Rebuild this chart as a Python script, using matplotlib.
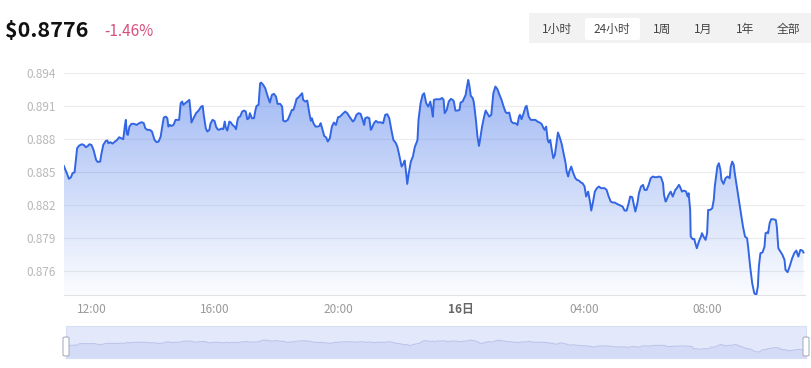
import numpy as np
import matplotlib
matplotlib.use("Agg")
import matplotlib.pyplot as plt
from matplotlib.patches import FancyBboxPatch, Rectangle

plt.rcParams['font.family'] = ['Noto Sans CJK SC', 'DejaVu Sans']

# minutes after 12:00 on the 15th, and price in USD
minutes = [
    -55, -49, -45, -41, -38, -34, -31, -29, -25, -20,
    -16, -12, -8, -5, -1, 3, 8, 11, 16, 18,
    22, 27, 30, 32, 36, 40, 45, 49, 53, 57,
    61, 64, 66, 68, 70, 73, 77, 82, 87, 92,
    97, 101, 104, 108, 113, 117, 122, 126, 130, 134,
    137, 140, 144, 147, 149, 152, 155, 159, 163, 166,
    170, 173, 176, 178, 182, 186, 190, 192, 194, 198,
    203, 208, 213, 216, 218, 222, 225, 229, 231, 235,
    239, 242, 245, 248, 252, 256, 259, 261, 264, 268,
    271, 274, 278, 281, 284, 286, 289, 293, 297, 300,
    303, 306, 308, 312, 316, 319, 321, 325, 328, 330,
    334, 338, 343, 347, 351, 355, 359, 362, 367, 371,
    373, 377, 382, 386, 390, 393, 397, 399, 403, 407,
    410, 412, 416, 420, 424, 427, 429, 432, 436, 440,
    444, 446, 449, 453, 457, 460, 464, 468, 472, 476,
    480, 484, 489, 494, 498, 503, 509, 512, 516, 520,
    524, 528, 531, 533, 537, 541, 544, 546, 550, 554,
    558, 562, 568, 572, 576, 580, 584, 588, 593, 596,
    600, 604, 608, 610, 613, 615, 618, 622, 626, 630,
    634, 635,
    637, 641, 645, 648, 652, 656, 660, 663, 665, 667,
    671, 675, 679, 683, 686, 688, 692, 696, 700, 704,
    706, 709, 713, 717, 719, 723, 729, 731, 734, 736,
    739, 743, 745, 749, 752, 755, 757, 761, 765, 768,
    771, 775, 779, 783, 787, 791, 795, 799, 803, 807,
    810, 814, 818, 822, 826, 830, 833, 835, 838, 842,
    846, 848, 852, 856, 860, 865, 869, 873, 877, 881,
    883, 886, 889, 891, 894, 897, 900, 903, 907, 909,
    912, 916, 920, 924, 926, 929, 931, 935, 939, 943,
    946, 950, 954, 957, 961, 964, 968, 972, 974, 977,
    981, 985, 989, 993, 996, 1000, 1004, 1008, 1012, 1016,
    1020, 1024, 1028, 1032, 1035, 1039, 1043, 1047, 1050, 1054,
    1058, 1060, 1064, 1067, 1071, 1075, 1078, 1082, 1086, 1090,
    1094, 1098, 1102, 1106, 1110, 1114, 1116, 1119, 1121, 1125,
    1129, 1133, 1136, 1138, 1141, 1145, 1147, 1151, 1155, 1159,
    1162, 1164, 1167, 1168, 1172, 1175, 1177, 1180, 1184, 1188,
    1190, 1193, 1197, 1200, 1202, 1206, 1210, 1213, 1215, 1218,
    1220, 1223, 1226, 1228, 1232, 1236, 1240, 1244, 1246, 1249,
    1252, 1254, 1258, 1262, 1266, 1270, 1274, 1278, 1280, 1284,
    1288, 1292, 1296, 1299, 1301, 1304, 1308, 1312, 1314, 1317,
    1319, 1322, 1325, 1329, 1334, 1336, 1339, 1343, 1347, 1351,
    1353, 1357, 1361, 1366, 1370, 1374, 1378, 1382, 1386, 1388,
]
prices = [
    0.88556, 0.88489, 0.88438, 0.88453, 0.88489, 0.88498, 0.88626, 0.88717, 0.88741, 0.88753,
    0.88747, 0.88726, 0.88738, 0.88753, 0.88747, 0.88702, 0.88611, 0.88592, 0.88595, 0.88656,
    0.88747, 0.88784, 0.88787, 0.88762, 0.88772, 0.88759, 0.88778, 0.88793, 0.88817, 0.88808,
    0.88799, 0.88914, 0.88975, 0.88847, 0.88838, 0.88914, 0.88939, 0.88939, 0.88929, 0.88945,
    0.88954, 0.88945, 0.88899, 0.88884, 0.88884, 0.88869, 0.88793, 0.88772, 0.88778, 0.88823,
    0.88914, 0.88996, 0.89005, 0.88990, 0.88914, 0.88929, 0.88920, 0.88929, 0.88975, 0.88975,
    0.88975, 0.89127, 0.89142, 0.89112, 0.89127, 0.89142, 0.89157, 0.89066, 0.88951, 0.88990,
    0.89036, 0.89060, 0.89096, 0.89102, 0.89021, 0.88899, 0.88869, 0.88884, 0.88939, 0.88975,
    0.88966, 0.88914, 0.88890, 0.88884, 0.88896, 0.88890, 0.88960, 0.88905, 0.88878, 0.88960,
    0.88951, 0.88929, 0.88914, 0.88890, 0.88975, 0.88999, 0.89005, 0.89051, 0.89060, 0.89051,
    0.88981, 0.88990, 0.89036, 0.88990, 0.88990, 0.89066, 0.89102, 0.89112, 0.89309, 0.89315,
    0.89294, 0.89263, 0.89187, 0.89133, 0.89203, 0.89212, 0.89187, 0.89121, 0.89121, 0.89096,
    0.88969, 0.88960, 0.88975, 0.89021, 0.89066, 0.89066, 0.89127, 0.89166, 0.89181, 0.89203,
    0.89218, 0.89157, 0.89142, 0.89151, 0.89036, 0.88966, 0.88990, 0.88945, 0.88914, 0.88914,
    0.88920, 0.88945, 0.88899, 0.88829, 0.88814, 0.88778, 0.88808, 0.88914, 0.88951, 0.88929,
    0.88999, 0.89005, 0.89030, 0.89051, 0.89036, 0.88999, 0.88960, 0.88975, 0.89021, 0.89036,
    0.89030, 0.88975, 0.88929, 0.88990, 0.88999, 0.88990, 0.88884, 0.88899, 0.88945, 0.88966,
    0.88951, 0.88954, 0.88945, 0.89021, 0.89027, 0.88990, 0.88884, 0.88793, 0.88762, 0.88726,
    0.88641, 0.88550, 0.88580, 0.88605, 0.88489, 0.88392, 0.88489, 0.88595, 0.88641, 0.88732,
    0.88778, 0.88793,
    0.88975, 0.89127, 0.89203, 0.89218, 0.89127, 0.89096, 0.89142, 0.89066, 0.89005, 0.89157,
    0.89163, 0.89163, 0.89163, 0.89175, 0.89157, 0.89036, 0.89066, 0.89142, 0.89166, 0.89157,
    0.89142, 0.89060, 0.89060, 0.89066, 0.89133, 0.89142, 0.89203, 0.89263, 0.89339, 0.89294,
    0.89194, 0.89172, 0.89133, 0.88975, 0.88823, 0.88738, 0.88793, 0.88914, 0.89005, 0.89060,
    0.89036, 0.89005, 0.89021, 0.89218, 0.89279, 0.89254, 0.89203, 0.89157, 0.89096, 0.89045,
    0.89036, 0.89042, 0.88960, 0.88945, 0.88945, 0.88929, 0.89005, 0.89021, 0.88981, 0.89036,
    0.89096, 0.89102, 0.89005, 0.88975, 0.88975, 0.88975, 0.88960, 0.88951, 0.88939, 0.88899,
    0.88884, 0.88914, 0.88793, 0.88769, 0.88793, 0.88702, 0.88626, 0.88656, 0.88793, 0.88860,
    0.88823, 0.88762, 0.88671, 0.88580, 0.88504, 0.88459, 0.88504, 0.88550, 0.88489, 0.88444,
    0.88429, 0.88422, 0.88404, 0.88398, 0.88368, 0.88277, 0.88322, 0.88216, 0.88149, 0.88216,
    0.88322, 0.88353, 0.88368, 0.88353, 0.88353, 0.88353, 0.88337, 0.88277, 0.88231, 0.88222,
    0.88222, 0.88210, 0.88201, 0.88192, 0.88186, 0.88149, 0.88149, 0.88216, 0.88277, 0.88271,
    0.88186, 0.88140, 0.88216, 0.88307, 0.88368, 0.88383, 0.88337, 0.88337, 0.88383, 0.88444,
    0.88459, 0.88453, 0.88453, 0.88459, 0.88453, 0.88398, 0.88292, 0.88231, 0.88246, 0.88292,
    0.88322, 0.88277, 0.88313, 0.88337, 0.88353, 0.88383, 0.88368, 0.88322, 0.88331, 0.88322,
    0.88277, 0.88307, 0.88155, 0.87912, 0.87888, 0.87891, 0.87852, 0.87806, 0.87867, 0.87912,
    0.87943, 0.87912, 0.87882, 0.87943, 0.88155, 0.88155, 0.88170, 0.88246, 0.88368, 0.88474,
    0.88550, 0.88580, 0.88520, 0.88429, 0.88392, 0.88444, 0.88459, 0.88444, 0.88544, 0.88595,
    0.88565, 0.88489, 0.88368, 0.88246, 0.88125, 0.88003, 0.87912, 0.87897, 0.87821, 0.87639,
    0.87487, 0.87396, 0.87381, 0.87457, 0.87639, 0.87761, 0.87767, 0.87821, 0.87943, 0.87949,
    0.87943, 0.88034, 0.88070, 0.88070, 0.88064, 0.88003, 0.87806, 0.87776, 0.87745, 0.87700,
    0.87609, 0.87588, 0.87639, 0.87715, 0.87761, 0.87785, 0.87730, 0.87791, 0.87785, 0.87767,
]

y_ticks = [0.876, 0.879, 0.882, 0.885, 0.888, 0.891, 0.894]
x_tick_hours = [0, 4, 8, 12, 16, 20]
x_tick_labels = ["12:00", "16:00", "20:00", "16日", "04:00", "08:00"]
range_buttons = ["1小时", "24小时", "1周", "1月", "1年", "全部"]
last_price = "$0.8776"
change_pct = "-1.46%"

W, H = 811, 368
hours = np.array(minutes) / 60.0
vals = np.array(prices)

fig = plt.figure(figsize=(W / 100, H / 100), dpi=100)


def fx(px):
    return px / W


def fy(py):
    return 1 - py / H


# main chart
ax = fig.add_axes([fx(64), fy(295), fx(805) - fx(64), fy(73) - fy(295)])
ymin, ymax = 0.8738, 0.89402
ax.set_ylim(ymin, ymax)
ax.set_xlim(-54.6 / 60, 1391 / 60)

line_color = "#3366e4"
fill = ax.fill_between(hours, vals, ymin, color="none", lw=0)
grad = np.zeros((256, 1, 4))
grad[:, 0, 0] = 0.23
grad[:, 0, 1] = 0.43
grad[:, 0, 2] = 0.91
grad[:, 0, 3] = np.linspace(0.5, 0.02, 256)
img = ax.imshow(grad, aspect="auto", extent=[hours[0], hours[-1], ymin, ymax],
                origin="upper", zorder=1)
img.set_clip_path(fill.get_paths()[0], transform=ax.transData)
ax.plot(hours, vals, color=line_color, lw=1.4, zorder=3)

ax.set_yticks(y_ticks)
ax.set_yticklabels([f"{t:.3f}" for t in y_ticks])
ax.set_xticks(x_tick_hours)
ax.set_xticklabels(x_tick_labels)
for lbl in ax.get_xticklabels():
    lbl.set_color("#999999")
    if lbl.get_text() == "16日":
        lbl.set_color("#666666")
        lbl.set_fontweight("bold")
ax.tick_params(axis="y", length=0, pad=6, labelsize=8.5, labelcolor="#b8b8b8")
ax.tick_params(axis="x", length=0, pad=6, labelsize=8.5)
ax.grid(axis="y", color="#ececec", lw=0.8)
ax.set_axisbelow(True)
for s in ["top", "left", "right"]:
    ax.spines[s].set_visible(False)
ax.spines["bottom"].set_color("#e2e2e2")

# header
fig.text(fx(5), fy(31), last_price, fontsize=15.5, fontweight="bold",
         color="#111111", va="center", ha="left")
fig.text(fx(104), fy(32), change_pct, fontsize=11, color="#d6507e",
         va="center", ha="left")

# range buttons
fig.patches.append(Rectangle((fx(529), fy(43)), fx(811) - fx(529), fy(13) - fy(43),
                             transform=fig.transFigure, color="#f2f2f2", lw=0))
fig.patches.append(FancyBboxPatch((fx(585), fy(40)), fx(640) - fx(585), fy(18) - fy(40),
                                  boxstyle="round,pad=0,rounding_size=0.004",
                                  transform=fig.transFigure, fc="white", ec="none"))
btn_x = [557, 612, 662, 703, 745, 788]
for bx, name in zip(btn_x, range_buttons):
    fig.text(fx(bx), fy(29), name, fontsize=8.5, color="#444444",
             ha="center", va="center")

# data-zoom slider
sax = fig.add_axes([fx(66), fy(358), fx(806) - fx(66), fy(326) - fy(358)])
sax.set_xlim(hours[0], hours[-1])
sax.set_ylim(0.864, 0.916)
sax.set_facecolor("#e3e8fb")
sax.fill_between(hours, vals, 0.864, color="#d3dbf7", lw=0)
sax.plot(hours, vals, color="#bcc6ea", lw=0.8)
sax.set_xticks([])
sax.set_yticks([])
for s in sax.spines.values():
    s.set_color("#d8def5")
    s.set_linewidth(0.8)
for hx in [66, 806]:
    fig.patches.append(FancyBboxPatch((fx(hx - 3), fy(356)), fx(6), fy(337) - fy(356),
                                      boxstyle="round,pad=0,rounding_size=0.003",
                                      transform=fig.transFigure, fc="white",
                                      ec="#aab0c0", lw=0.8, zorder=5))

fig.savefig("out.png", dpi=100)
